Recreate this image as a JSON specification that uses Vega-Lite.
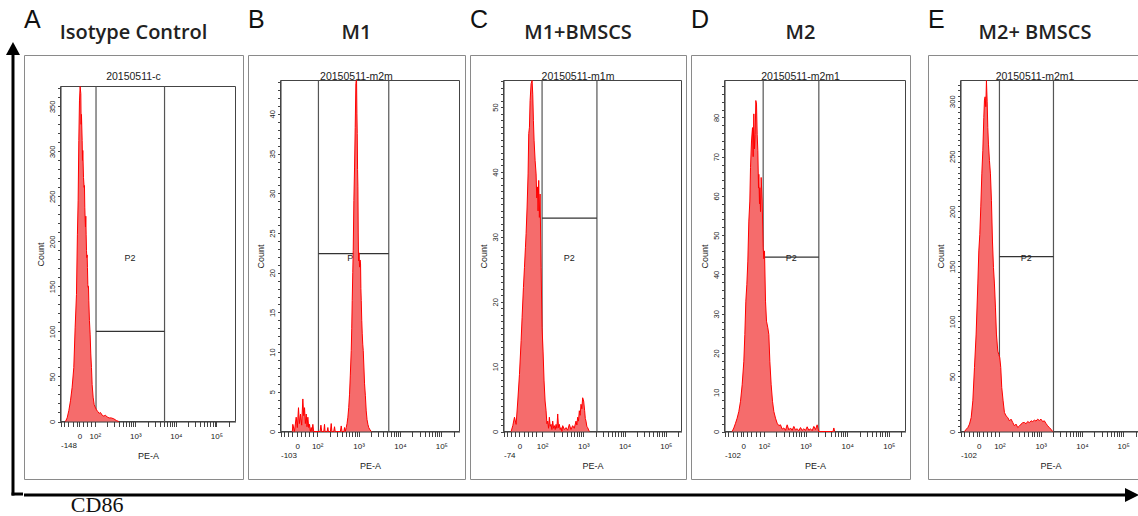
{
"$schema": "https://vega.github.io/schema/vega-lite/v6.json",
"background": "white",
"padding": 0,
"spacing": 0,
"config": {
  "font": "Liberation Sans",
  "view": {"stroke": "#8a8a8a", "strokeWidth": 1},
  "axis": {"grid": false, "domainColor": "#333333", "tickColor": "#444444", "labelColor": "#222222", "titleColor": "#222222", "titleFontWeight": "normal", "labelOverlap": false, "labelBound": false, "labelFont": "Liberation Sans", "titleFont": "Liberation Sans"}
},
"datasets": {
  "histA": [
    {"pe":1.277,"count":0},{"pe":1.318,"count":4},{"pe":1.359,"count":12},{"pe":1.4,"count":23},{"pe":1.441,"count":38},{"pe":1.482,"count":60},{"pe":1.515,"count":104},{"pe":1.548,"count":141},{"pe":1.571,"count":208},{"pe":1.589,"count":245},{"pe":1.606,"count":312},{"pe":1.622,"count":356},{"pe":1.638,"count":372},{"pe":1.655,"count":364},{"pe":1.663,"count":330},{"pe":1.671,"count":341},{"pe":1.688,"count":312},{"pe":1.696,"count":290},{"pe":1.704,"count":301},{"pe":1.721,"count":271},{"pe":1.737,"count":260},{"pe":1.745,"count":262},{"pe":1.753,"count":238},{"pe":1.762,"count":225},{"pe":1.77,"count":216},{"pe":1.778,"count":228},{"pe":1.786,"count":208},{"pe":1.795,"count":190},{"pe":1.803,"count":182},{"pe":1.811,"count":185},{"pe":1.819,"count":171},{"pe":1.828,"count":152},{"pe":1.836,"count":149},{"pe":1.844,"count":150},{"pe":1.852,"count":134},{"pe":1.868,"count":112},{"pe":1.885,"count":97},{"pe":1.901,"count":75},{"pe":1.918,"count":60},{"pe":1.934,"count":41},{"pe":1.959,"count":27},{"pe":1.984,"count":19},{"pe":2.008,"count":16},{"pe":2.041,"count":13},{"pe":2.074,"count":11},{"pe":2.107,"count":9},{"pe":2.14,"count":10},{"pe":2.181,"count":7},{"pe":2.222,"count":6},{"pe":2.263,"count":7},{"pe":2.304,"count":5},{"pe":2.353,"count":4},{"pe":2.403,"count":4},{"pe":2.468,"count":3},{"pe":2.534,"count":1},{"pe":2.592,"count":0}
  ],
  "histB": [
    {"pe":1.4,"count":0},{"pe":1.411,"count":0.9},{"pe":1.45,"count":0},{"pe":1.492,"count":1.8},{"pe":1.52,"count":0.5},{"pe":1.548,"count":3.0},{"pe":1.57,"count":1.0},{"pe":1.597,"count":2.2},{"pe":1.625,"count":0.8},{"pe":1.653,"count":4.1},{"pe":1.674,"count":2.0},{"pe":1.694,"count":3.0},{"pe":1.714,"count":1.0},{"pe":1.734,"count":2.2},{"pe":1.754,"count":0.6},{"pe":1.774,"count":1.8},{"pe":1.795,"count":0.5},{"pe":1.815,"count":0.9},{"pe":1.835,"count":0},{"pe":1.855,"count":0.5},{"pe":1.875,"count":0},{"pe":1.895,"count":0.9},{"pe":1.915,"count":0},{"pe":2.07,"count":0},{"pe":2.09,"count":0.8},{"pe":2.11,"count":0},{"pe":2.16,"count":0},{"pe":2.177,"count":0.9},{"pe":2.19,"count":0},{"pe":2.24,"count":0},{"pe":2.258,"count":0.5},{"pe":2.27,"count":0},{"pe":2.32,"count":0},{"pe":2.339,"count":1.0},{"pe":2.355,"count":0},{"pe":2.4,"count":0},{"pe":2.419,"count":0.6},{"pe":2.435,"count":0},{"pe":2.56,"count":0},{"pe":2.581,"count":0.7},{"pe":2.6,"count":0},{"pe":2.645,"count":0},{"pe":2.661,"count":0.5},{"pe":2.68,"count":0},{"pe":2.702,"count":0.5},{"pe":2.722,"count":1.0},{"pe":2.742,"count":1.8},{"pe":2.762,"count":3.0},{"pe":2.782,"count":4.7},{"pe":2.8,"count":7.0},{"pe":2.823,"count":10.2},{"pe":2.835,"count":13},{"pe":2.847,"count":16.5},{"pe":2.86,"count":20},{"pe":2.871,"count":22.8},{"pe":2.887,"count":29.1},{"pe":2.903,"count":33.3},{"pe":2.919,"count":38.3},{"pe":2.935,"count":43.8},{"pe":2.944,"count":44.2},{"pe":2.952,"count":44.2},{"pe":2.96,"count":40},{"pe":2.968,"count":37.5},{"pe":2.976,"count":33},{"pe":2.984,"count":30.8},{"pe":2.992,"count":25},{"pe":3.0,"count":21.5},{"pe":3.012,"count":22.5},{"pe":3.024,"count":20.7},{"pe":3.036,"count":21.6},{"pe":3.048,"count":21.1},{"pe":3.056,"count":18},{"pe":3.065,"count":16.5},{"pe":3.077,"count":14},{"pe":3.089,"count":12.3},{"pe":3.101,"count":11},{"pe":3.113,"count":10.2},{"pe":3.13,"count":8},{"pe":3.145,"count":6.0},{"pe":3.165,"count":4.5},{"pe":3.185,"count":2.6},{"pe":3.205,"count":1.5},{"pe":3.226,"count":0.9},{"pe":3.246,"count":0.5},{"pe":3.266,"count":0.3},{"pe":3.306,"count":0}
  ],
  "histC": [
    {"pe":1.25,"count":0},{"pe":1.29,"count":0.9},{"pe":1.331,"count":2.2},{"pe":1.371,"count":1.1},{"pe":1.411,"count":4.7},{"pe":1.452,"count":8.8},{"pe":1.492,"count":14},{"pe":1.516,"count":17.6},{"pe":1.548,"count":22.2},{"pe":1.573,"count":25.3},{"pe":1.597,"count":28.4},{"pe":1.613,"count":30.5},{"pe":1.637,"count":34.6},{"pe":1.661,"count":39.7},{"pe":1.677,"count":45.9},{"pe":1.694,"count":46.9},{"pe":1.71,"count":51},{"pe":1.734,"count":53.6},{"pe":1.758,"count":54.1},{"pe":1.774,"count":52},{"pe":1.79,"count":47.9},{"pe":1.806,"count":44.9},{"pe":1.831,"count":41.8},{"pe":1.855,"count":39.7},{"pe":1.871,"count":36},{"pe":1.887,"count":37.7},{"pe":1.903,"count":34},{"pe":1.919,"count":38.7},{"pe":1.935,"count":33},{"pe":1.952,"count":36.6},{"pe":1.976,"count":25.3},{"pe":2.0,"count":16},{"pe":2.024,"count":12.4},{"pe":2.048,"count":7.8},{"pe":2.073,"count":4.7},{"pe":2.097,"count":3.2},{"pe":2.117,"count":1.2},{"pe":2.137,"count":1.6},{"pe":2.157,"count":0.5},{"pe":2.177,"count":2.2},{"pe":2.197,"count":0.8},{"pe":2.218,"count":1.1},{"pe":2.238,"count":0.3},{"pe":2.258,"count":1.6},{"pe":2.278,"count":0.5},{"pe":2.298,"count":0.9},{"pe":2.318,"count":0.3},{"pe":2.339,"count":1.1},{"pe":2.359,"count":0.5},{"pe":2.379,"count":2.7},{"pe":2.399,"count":0.6},{"pe":2.419,"count":1.1},{"pe":2.44,"count":0.3},{"pe":2.46,"count":0.6},{"pe":2.48,"count":0},{"pe":2.5,"count":0.9},{"pe":2.54,"count":0.3},{"pe":2.581,"count":0.6},{"pe":2.62,"count":0.2},{"pe":2.661,"count":1.1},{"pe":2.7,"count":0.3},{"pe":2.742,"count":0.9},{"pe":2.78,"count":0.5},{"pe":2.823,"count":1.6},{"pe":2.843,"count":1.0},{"pe":2.863,"count":2.2},{"pe":2.883,"count":1.6},{"pe":2.903,"count":3.2},{"pe":2.924,"count":2.5},{"pe":2.944,"count":4.2},{"pe":2.964,"count":3.5},{"pe":2.984,"count":5.2},{"pe":3.008,"count":4.7},{"pe":3.032,"count":3.2},{"pe":3.048,"count":2.0},{"pe":3.065,"count":1.6},{"pe":3.085,"count":0.8},{"pe":3.105,"count":0.6},{"pe":3.145,"count":0}
  ],
  "histD": [
    {"pe":1.24,"count":0},{"pe":1.28,"count":0.9},{"pe":1.32,"count":2.1},{"pe":1.36,"count":3.4},{"pe":1.4,"count":5.1},{"pe":1.44,"count":7.7},{"pe":1.48,"count":11.9},{"pe":1.52,"count":17.9},{"pe":1.544,"count":24.7},{"pe":1.568,"count":33.2},{"pe":1.592,"count":37.4},{"pe":1.616,"count":43.4},{"pe":1.64,"count":53.6},{"pe":1.664,"count":58.7},{"pe":1.68,"count":67.2},{"pe":1.704,"count":74},{"pe":1.728,"count":77.4},{"pe":1.744,"count":70},{"pe":1.76,"count":80.9},{"pe":1.776,"count":72},{"pe":1.792,"count":75.7},{"pe":1.808,"count":84.3},{"pe":1.824,"count":83.4},{"pe":1.84,"count":75.7},{"pe":1.856,"count":71.5},{"pe":1.872,"count":62},{"pe":1.88,"count":65.5},{"pe":1.896,"count":58},{"pe":1.904,"count":62.1},{"pe":1.92,"count":56},{"pe":1.936,"count":64.7},{"pe":1.96,"count":58.7},{"pe":1.984,"count":46.8},{"pe":2.0,"count":44},{"pe":2.016,"count":46},{"pe":2.04,"count":33.2},{"pe":2.064,"count":28.1},{"pe":2.096,"count":26.4},{"pe":2.12,"count":24.7},{"pe":2.144,"count":17.9},{"pe":2.176,"count":11.9},{"pe":2.208,"count":7.7},{"pe":2.24,"count":5.1},{"pe":2.28,"count":3.4},{"pe":2.32,"count":2.1},{"pe":2.36,"count":1.5},{"pe":2.4,"count":1.7},{"pe":2.44,"count":0.6},{"pe":2.48,"count":0.9},{"pe":2.52,"count":0.3},{"pe":2.56,"count":1.7},{"pe":2.6,"count":0.4},{"pe":2.64,"count":0.9},{"pe":2.68,"count":0.3},{"pe":2.72,"count":1.3},{"pe":2.76,"count":0.4},{"pe":2.8,"count":0.7},{"pe":2.84,"count":0.2},{"pe":2.88,"count":1.0},{"pe":2.92,"count":0.3},{"pe":2.96,"count":0.7},{"pe":3.0,"count":0.3},{"pe":3.04,"count":1.2},{"pe":3.08,"count":0.3},{"pe":3.12,"count":0.7},{"pe":3.16,"count":0.2},{"pe":3.2,"count":1.3},{"pe":3.24,"count":0.5},{"pe":3.28,"count":1.7},{"pe":3.3,"count":0.8},{"pe":3.32,"count":0},{"pe":3.66,"count":0},{"pe":3.68,"count":0.9},{"pe":3.7,"count":0}
  ],
  "histE": [
    {"pe":1.153,"count":0},{"pe":1.194,"count":2},{"pe":1.234,"count":3.6},{"pe":1.274,"count":6.7},{"pe":1.315,"count":12.7},{"pe":1.355,"count":27.9},{"pe":1.395,"count":58.2},{"pe":1.435,"count":88.5},{"pe":1.476,"count":134},{"pe":1.5,"count":164},{"pe":1.524,"count":179},{"pe":1.548,"count":204},{"pe":1.573,"count":234},{"pe":1.597,"count":255},{"pe":1.621,"count":285},{"pe":1.637,"count":301},{"pe":1.653,"count":304},{"pe":1.669,"count":295},{"pe":1.685,"count":318.8},{"pe":1.702,"count":300},{"pe":1.718,"count":276},{"pe":1.734,"count":261},{"pe":1.758,"count":246},{"pe":1.782,"count":234},{"pe":1.806,"count":210},{"pe":1.831,"count":173},{"pe":1.855,"count":149},{"pe":1.879,"count":134},{"pe":1.903,"count":113},{"pe":1.927,"count":88.5},{"pe":1.96,"count":73},{"pe":1.984,"count":70},{"pe":2.008,"count":67},{"pe":2.032,"count":58.2},{"pe":2.056,"count":40},{"pe":2.089,"count":27.9},{"pe":2.121,"count":17.3},{"pe":2.161,"count":14.2},{"pe":2.202,"count":12.7},{"pe":2.242,"count":9.7},{"pe":2.282,"count":11.2},{"pe":2.323,"count":8.2},{"pe":2.363,"count":5.2},{"pe":2.403,"count":6.7},{"pe":2.444,"count":3.6},{"pe":2.484,"count":5},{"pe":2.524,"count":6.7},{"pe":2.565,"count":8},{"pe":2.605,"count":8.2},{"pe":2.645,"count":7},{"pe":2.685,"count":9.1},{"pe":2.726,"count":8},{"pe":2.766,"count":9.7},{"pe":2.806,"count":9},{"pe":2.847,"count":10.3},{"pe":2.887,"count":9.5},{"pe":2.927,"count":11.2},{"pe":2.968,"count":10},{"pe":3.008,"count":11.2},{"pe":3.048,"count":9},{"pe":3.089,"count":9.7},{"pe":3.129,"count":7.3},{"pe":3.169,"count":5.2},{"pe":3.21,"count":3.6},{"pe":3.25,"count":2},{"pe":3.29,"count":0}
  ]
},
"hconcat": [
  {
    "width": 23, "height": 516, "view": {"stroke": null},
    "data": {"values": [{}]},
    "layer": [
      {"mark": {"type": "rect", "color": "#000000"}, "encoding": {
        "x": {"datum": 0.5, "type": "quantitative", "scale": {"domain": [0, 1], "nice": false, "zero": false}, "axis": null},
        "x2": {"datum": 0.63},
        "y": {"datum": 0.0397, "type": "quantitative", "scale": {"domain": [0, 1], "nice": false, "zero": false}, "axis": null},
        "y2": {"datum": 0.895}}},
      {"mark": {"type": "rect", "color": "#000000"}, "encoding": {
        "x": {"datum": 0.5, "type": "quantitative", "axis": null},
        "x2": {"datum": 1},
        "y": {"datum": 0.0397, "type": "quantitative", "axis": null},
        "y2": {"datum": 0.0455}}},
      {"mark": {"type": "point", "shape": "M0,0L0.5,0.93L-0.5,0.93Z", "filled": true, "color": "#000000", "size": 784, "opacity": 1, "strokeWidth": 0}, "encoding": {
        "x": {"datum": 0.565, "type": "quantitative", "axis": null},
        "y": {"datum": 0.9186, "type": "quantitative", "axis": null}}}
    ]
  },
  {
    "spacing": 0,
    "vconcat": [
      {
        "spacing": 3,
        "hconcat": [
          {
            "spacing": 0,
            "vconcat": [
              {
                "width": 219, "height": 54, "view": {"stroke": null},
                "data": {"values": [{"letter": "A", "name": "Isotype Control"}]},
                "layer": [
                  {"mark": {"type": "text", "align": "left", "baseline": "alphabetic", "fontSize": 25, "font": "Liberation Sans", "color": "#111111"}, "encoding": {
                    "x": {"datum": 0, "type": "quantitative", "scale": {"domain": [0, 1], "nice": false, "zero": false}, "axis": null},
                    "y": {"datum": 0.48, "type": "quantitative", "scale": {"domain": [0, 1], "nice": false, "zero": false}, "axis": null},
                    "text": {"field": "letter"}}},
                  {"mark": {"type": "text", "align": "center", "baseline": "alphabetic", "fontSize": 20, "font": "Open Sans", "fontWeight": 600, "color": "#222222"}, "encoding": {
                    "x": {"datum": 0.5, "type": "quantitative", "axis": null},
                    "y": {"datum": 0.27, "type": "quantitative", "axis": null},
                    "text": {"field": "name"}}}
                ]
              },
              {
                "width": 219, "height": 424,
                "data": {"name": "histA"},
                "resolve": {"axis": {"x": "independent", "y": "independent"}},
                "layer": [
                  {"data": {"values": [{}]}, "mark": {"type": "rect", "filled": false, "stroke": "#444444", "strokeWidth": 1}, "encoding": {
                    "x": {"datum": 1.154, "type": "quantitative", "axis": null}, "x2": {"datum": 5.47},
                    "y": {"datum": 0, "type": "quantitative", "axis": null}, "y2": {"datum": 372}}},
                  {"data": {"values": [{"edge": 2.03}, {"edge": 3.72}]}, "mark": {"type": "rule", "color": "#555555", "strokeWidth": 1.2}, "encoding": {
                    "x": {"field": "edge", "type": "quantitative", "axis": null},
                    "y": {"datum": 0, "type": "quantitative", "axis": null}, "y2": {"datum": 372}}},
                  {"data": {"values": [{"lo": 2.03, "hi": 3.72, "level": 100}]}, "mark": {"type": "rule", "color": "#333333", "strokeWidth": 1.2}, "encoding": {
                    "x": {"field": "lo", "type": "quantitative", "axis": null}, "x2": {"field": "hi"},
                    "y": {"field": "level", "type": "quantitative", "axis": null}}},
                  {"data": {"values": [{"gate": "P2", "cx": 2.87, "cy": 182}]}, "mark": {"type": "text", "fontSize": 9, "baseline": "middle", "color": "#222222"}, "encoding": {
                    "x": {"field": "cx", "type": "quantitative", "axis": null},
                    "y": {"field": "cy", "type": "quantitative", "axis": null},
                    "text": {"field": "gate"}}},
                  {"mark": {"type": "area", "color": "#f56c6c", "opacity": 1}, "encoding": {
                    "x": {"field": "pe", "type": "quantitative", "scale": {"domain": [1.154, 5.47], "range": [36.5, 211.5], "nice": false, "zero": false},
                      "axis": {"orient": "bottom", "offset": -57.5, "values": [1.154, 1.25, 1.35, 1.45, 1.55, 1.62, 1.7, 1.8, 1.9, 2, 2.301, 2.477, 2.602, 2.699, 2.778, 2.845, 2.903, 2.954, 3, 3.301, 3.477, 3.602, 3.699, 3.778, 3.845, 3.903, 3.954, 4, 4.301, 4.477, 4.602, 4.699, 4.778, 4.845, 4.903, 4.954, 5, 5.301],
                        "labelExpr": "datum.value == 2 ? '10²' : datum.value == 3 ? '10³' : datum.value == 4 ? '10⁴' : datum.value == 5 ? '10⁵' : datum.value == 1.62 ? '0' : datum.value == 1.154 ? ['', '-148'] : ''",
                        "tickSize": 5, "title": "PE-A", "labelPadding": 6, "labelFontSize": 8, "labelLineHeight": 9, "titleFontSize": 9, "titlePadding": 2}},
                    "y": {"field": "count", "type": "quantitative", "scale": {"domain": [0, 372], "range": [366.5, 31.5], "nice": false, "zero": false},
                      "axis": {"orient": "left", "offset": -36.5, "values": [0,10,20,30,40,50,60,70,80,90,100,110,120,130,140,150,160,170,180,190,200,210,220,230,240,250,260,270,280,290,300,310,320,330,340,350,360,370],
                        "labelExpr": "datum.value % 50 == 0 ? datum.label : ''",
                        "tickSize": 3, "title": "Count", "labelAngle": 270, "labelPadding": 1, "labelFontSize": 7.5, "titleFontSize": 9, "titlePadding": 3}}}},
                  {"mark": {"type": "line", "color": "#ff0000", "strokeWidth": 1}, "encoding": {
                    "x": {"field": "pe", "type": "quantitative", "axis": null},
                    "y": {"field": "count", "type": "quantitative", "axis": null}}},
                  {"data": {"values": [{"sample": "20150511-c"}]}, "mark": {"type": "text", "fontSize": 10.5, "baseline": "alphabetic", "dy": -7, "color": "#222222"}, "encoding": {
                    "x": {"datum": 2.954, "type": "quantitative", "axis": null},
                    "y": {"datum": 372, "type": "quantitative", "axis": null},
                    "text": {"field": "sample"}}}
                ]
              }
            ]
          },
          {
            "spacing": 0,
            "vconcat": [
              {
                "width": 217, "height": 54, "view": {"stroke": null},
                "data": {"values": [{"letter": "B", "name": "M1"}]},
                "layer": [
                  {"mark": {"type": "text", "align": "left", "baseline": "alphabetic", "fontSize": 25, "font": "Liberation Sans", "color": "#111111"}, "encoding": {
                    "x": {"datum": 0, "type": "quantitative", "scale": {"domain": [0, 1], "nice": false, "zero": false}, "axis": null},
                    "y": {"datum": 0.48, "type": "quantitative", "scale": {"domain": [0, 1], "nice": false, "zero": false}, "axis": null},
                    "text": {"field": "letter"}}},
                  {"mark": {"type": "text", "align": "center", "baseline": "alphabetic", "fontSize": 20, "font": "Open Sans", "fontWeight": 600, "color": "#222222"}, "encoding": {
                    "x": {"datum": 0.5, "type": "quantitative", "axis": null},
                    "y": {"datum": 0.27, "type": "quantitative", "axis": null},
                    "text": {"field": "name"}}}
                ]
              },
              {
                "width": 217, "height": 424,
                "data": {"name": "histB"},
                "resolve": {"axis": {"x": "independent", "y": "independent"}},
                "layer": [
                  {"data": {"values": [{}]}, "mark": {"type": "rect", "filled": false, "stroke": "#444444", "strokeWidth": 1}, "encoding": {
                    "x": {"datum": 1.113, "type": "quantitative", "axis": null}, "x2": {"datum": 5.44},
                    "y": {"datum": 0, "type": "quantitative", "axis": null}, "y2": {"datum": 44.2}}},
                  {"data": {"values": [{"edge": 2.03}, {"edge": 3.73}]}, "mark": {"type": "rule", "color": "#555555", "strokeWidth": 1.2}, "encoding": {
                    "x": {"field": "edge", "type": "quantitative", "axis": null},
                    "y": {"datum": 0, "type": "quantitative", "axis": null}, "y2": {"datum": 44.2}}},
                  {"data": {"values": [{"lo": 2.03, "hi": 3.73, "level": 22.4}]}, "mark": {"type": "rule", "color": "#333333", "strokeWidth": 1.2}, "encoding": {
                    "x": {"field": "lo", "type": "quantitative", "axis": null}, "x2": {"field": "hi"},
                    "y": {"field": "level", "type": "quantitative", "axis": null}}},
                  {"data": {"values": [{"gate": "P2", "cx": 2.86, "cy": 21.9}]}, "mark": {"type": "text", "fontSize": 9, "baseline": "middle", "color": "#222222"}, "encoding": {
                    "x": {"field": "cx", "type": "quantitative", "axis": null},
                    "y": {"field": "cy", "type": "quantitative", "axis": null},
                    "text": {"field": "gate"}}},
                  {"mark": {"type": "area", "color": "#f56c6c", "opacity": 1}, "encoding": {
                    "x": {"field": "pe", "type": "quantitative", "scale": {"domain": [1.113, 5.44], "range": [32.5, 211.5], "nice": false, "zero": false},
                      "axis": {"orient": "bottom", "offset": -47.5, "values": [1.113, 1.2, 1.3, 1.4, 1.516, 1.6, 1.7, 1.8, 1.9, 2, 2.301, 2.477, 2.602, 2.699, 2.778, 2.845, 2.903, 2.954, 3, 3.301, 3.477, 3.602, 3.699, 3.778, 3.845, 3.903, 3.954, 4, 4.301, 4.477, 4.602, 4.699, 4.778, 4.845, 4.903, 4.954, 5, 5.301],
                        "labelExpr": "datum.value == 2 ? '10²' : datum.value == 3 ? '10³' : datum.value == 4 ? '10⁴' : datum.value == 5 ? '10⁵' : datum.value == 1.516 ? '0' : datum.value == 1.113 ? ['', '-103'] : ''",
                        "tickSize": 5, "title": "PE-A", "labelPadding": 6, "labelFontSize": 8, "labelLineHeight": 9, "titleFontSize": 9, "titlePadding": 2}},
                    "y": {"field": "count", "type": "quantitative", "scale": {"domain": [0, 44.2], "range": [376.5, 25.5], "nice": false, "zero": false},
                      "axis": {"orient": "left", "offset": -32.5, "values": [0,1,2,3,4,5,6,7,8,9,10,11,12,13,14,15,16,17,18,19,20,21,22,23,24,25,26,27,28,29,30,31,32,33,34,35,36,37,38,39,40,41,42,43,44],
                        "labelExpr": "datum.value % 5 == 0 ? datum.label : ''",
                        "tickSize": 3, "title": "Count", "labelAngle": 270, "labelPadding": 1, "labelFontSize": 7.5, "titleFontSize": 9, "titlePadding": 3}}}},
                  {"mark": {"type": "line", "color": "#ff0000", "strokeWidth": 1}, "encoding": {
                    "x": {"field": "pe", "type": "quantitative", "axis": null},
                    "y": {"field": "count", "type": "quantitative", "axis": null}}},
                  {"data": {"values": [{"sample": "20150511-m2m"}]}, "mark": {"type": "text", "fontSize": 10.5, "baseline": "alphabetic", "dy": -1, "color": "#222222"}, "encoding": {
                    "x": {"datum": 2.95, "type": "quantitative", "axis": null},
                    "y": {"datum": 44.2, "type": "quantitative", "axis": null},
                    "text": {"field": "sample"}}}
                ]
              }
            ]
          },
          {
            "spacing": 0,
            "vconcat": [
              {
                "width": 216, "height": 54, "view": {"stroke": null},
                "data": {"values": [{"letter": "C", "name": "M1+BMSCS"}]},
                "layer": [
                  {"mark": {"type": "text", "align": "left", "baseline": "alphabetic", "fontSize": 25, "font": "Liberation Sans", "color": "#111111"}, "encoding": {
                    "x": {"datum": 0, "type": "quantitative", "scale": {"domain": [0, 1], "nice": false, "zero": false}, "axis": null},
                    "y": {"datum": 0.48, "type": "quantitative", "scale": {"domain": [0, 1], "nice": false, "zero": false}, "axis": null},
                    "text": {"field": "letter"}}},
                  {"mark": {"type": "text", "align": "center", "baseline": "alphabetic", "fontSize": 20, "font": "Open Sans", "fontWeight": 600, "color": "#222222"}, "encoding": {
                    "x": {"datum": 0.5, "type": "quantitative", "axis": null},
                    "y": {"datum": 0.27, "type": "quantitative", "axis": null},
                    "text": {"field": "name"}}}
                ]
              },
              {
                "width": 216, "height": 424,
                "data": {"name": "histC"},
                "resolve": {"axis": {"x": "independent", "y": "independent"}},
                "layer": [
                  {"data": {"values": [{}]}, "mark": {"type": "rect", "filled": false, "stroke": "#444444", "strokeWidth": 1}, "encoding": {
                    "x": {"datum": 1.065, "type": "quantitative", "axis": null}, "x2": {"datum": 5.38},
                    "y": {"datum": 0, "type": "quantitative", "axis": null}, "y2": {"datum": 54.1}}},
                  {"data": {"values": [{"edge": 2.0}, {"edge": 3.33}]}, "mark": {"type": "rule", "color": "#555555", "strokeWidth": 1.2}, "encoding": {
                    "x": {"field": "edge", "type": "quantitative", "axis": null},
                    "y": {"datum": 0, "type": "quantitative", "axis": null}, "y2": {"datum": 54.1}}},
                  {"data": {"values": [{"lo": 2.0, "hi": 3.33, "level": 32.9}]}, "mark": {"type": "rule", "color": "#333333", "strokeWidth": 1.2}, "encoding": {
                    "x": {"field": "lo", "type": "quantitative", "axis": null}, "x2": {"field": "hi"},
                    "y": {"field": "level", "type": "quantitative", "axis": null}}},
                  {"data": {"values": [{"gate": "P2", "cx": 2.66, "cy": 26.8}]}, "mark": {"type": "text", "fontSize": 9, "baseline": "middle", "color": "#222222"}, "encoding": {
                    "x": {"field": "cx", "type": "quantitative", "axis": null},
                    "y": {"field": "cy", "type": "quantitative", "axis": null},
                    "text": {"field": "gate"}}},
                  {"mark": {"type": "area", "color": "#f56c6c", "opacity": 1}, "encoding": {
                    "x": {"field": "pe", "type": "quantitative", "scale": {"domain": [1.065, 5.38], "range": [33.5, 211.5], "nice": false, "zero": false},
                      "axis": {"orient": "bottom", "offset": -47.5, "values": [1.065, 1.15, 1.25, 1.35, 1.452, 1.55, 1.65, 1.75, 1.85, 2, 2.301, 2.477, 2.602, 2.699, 2.778, 2.845, 2.903, 2.954, 3, 3.301, 3.477, 3.602, 3.699, 3.778, 3.845, 3.903, 3.954, 4, 4.301, 4.477, 4.602, 4.699, 4.778, 4.845, 4.903, 4.954, 5, 5.301],
                        "labelExpr": "datum.value == 2 ? '10²' : datum.value == 3 ? '10³' : datum.value == 4 ? '10⁴' : datum.value == 5 ? '10⁵' : datum.value == 1.452 ? '0' : datum.value == 1.065 ? ['', '-74'] : ''",
                        "tickSize": 5, "title": "PE-A", "labelPadding": 6, "labelFontSize": 8, "labelLineHeight": 9, "titleFontSize": 9, "titlePadding": 2}},
                    "y": {"field": "count", "type": "quantitative", "scale": {"domain": [0, 54.1], "range": [376.5, 25.5], "nice": false, "zero": false},
                      "axis": {"orient": "left", "offset": -33.5, "values": [0,1,2,3,4,5,6,7,8,9,10,11,12,13,14,15,16,17,18,19,20,21,22,23,24,25,26,27,28,29,30,31,32,33,34,35,36,37,38,39,40,41,42,43,44,45,46,47,48,49,50,51,52,53,54],
                        "labelExpr": "datum.value % 10 == 0 ? datum.label : ''",
                        "tickSize": 3, "title": "Count", "labelAngle": 270, "labelPadding": 1, "labelFontSize": 7.5, "titleFontSize": 9, "titlePadding": 3}}}},
                  {"mark": {"type": "line", "color": "#ff0000", "strokeWidth": 1}, "encoding": {
                    "x": {"field": "pe", "type": "quantitative", "axis": null},
                    "y": {"field": "count", "type": "quantitative", "axis": null}}},
                  {"data": {"values": [{"sample": "20150511-m1m"}]}, "mark": {"type": "text", "fontSize": 10.5, "baseline": "alphabetic", "dy": -1, "color": "#222222"}, "encoding": {
                    "x": {"datum": 2.871, "type": "quantitative", "axis": null},
                    "y": {"datum": 54.1, "type": "quantitative", "axis": null},
                    "text": {"field": "sample"}}}
                ]
              }
            ]
          },
          {
            "spacing": 0,
            "vconcat": [
              {
                "width": 219, "height": 54, "view": {"stroke": null},
                "data": {"values": [{"letter": "D", "name": "M2"}]},
                "layer": [
                  {"mark": {"type": "text", "align": "left", "baseline": "alphabetic", "fontSize": 25, "font": "Liberation Sans", "color": "#111111"}, "encoding": {
                    "x": {"datum": 0, "type": "quantitative", "scale": {"domain": [0, 1], "nice": false, "zero": false}, "axis": null},
                    "y": {"datum": 0.48, "type": "quantitative", "scale": {"domain": [0, 1], "nice": false, "zero": false}, "axis": null},
                    "text": {"field": "letter"}}},
                  {"mark": {"type": "text", "align": "center", "baseline": "alphabetic", "fontSize": 20, "font": "Open Sans", "fontWeight": 600, "color": "#222222"}, "encoding": {
                    "x": {"datum": 0.5, "type": "quantitative", "axis": null},
                    "y": {"datum": 0.27, "type": "quantitative", "axis": null},
                    "text": {"field": "name"}}}
                ]
              },
              {
                "width": 219, "height": 424,
                "data": {"name": "histD"},
                "resolve": {"axis": {"x": "independent", "y": "independent"}},
                "layer": [
                  {"data": {"values": [{}]}, "mark": {"type": "rect", "filled": false, "stroke": "#444444", "strokeWidth": 1}, "encoding": {
                    "x": {"datum": 1.056, "type": "quantitative", "axis": null}, "x2": {"datum": 5.4},
                    "y": {"datum": 0, "type": "quantitative", "axis": null}, "y2": {"datum": 89.4}}},
                  {"data": {"values": [{"edge": 1.984}, {"edge": 3.32}]}, "mark": {"type": "rule", "color": "#555555", "strokeWidth": 1.2}, "encoding": {
                    "x": {"field": "edge", "type": "quantitative", "axis": null},
                    "y": {"datum": 0, "type": "quantitative", "axis": null}, "y2": {"datum": 89.4}}},
                  {"data": {"values": [{"lo": 1.984, "hi": 3.32, "level": 44.4}]}, "mark": {"type": "rule", "color": "#333333", "strokeWidth": 1.2}, "encoding": {
                    "x": {"field": "lo", "type": "quantitative", "axis": null}, "x2": {"field": "hi"},
                    "y": {"field": "level", "type": "quantitative", "axis": null}}},
                  {"data": {"values": [{"gate": "P2", "cx": 2.66, "cy": 44.3}]}, "mark": {"type": "text", "fontSize": 9, "baseline": "middle", "color": "#222222"}, "encoding": {
                    "x": {"field": "cx", "type": "quantitative", "axis": null},
                    "y": {"field": "cy", "type": "quantitative", "axis": null},
                    "text": {"field": "gate"}}},
                  {"mark": {"type": "area", "color": "#f56c6c", "opacity": 1}, "encoding": {
                    "x": {"field": "pe", "type": "quantitative", "scale": {"domain": [1.056, 5.4], "range": [33.5, 214.5], "nice": false, "zero": false},
                      "axis": {"orient": "bottom", "offset": -47.5, "values": [1.056, 1.15, 1.25, 1.35, 1.45, 1.504, 1.6, 1.7, 1.8, 1.9, 2, 2.301, 2.477, 2.602, 2.699, 2.778, 2.845, 2.903, 2.954, 3, 3.301, 3.477, 3.602, 3.699, 3.778, 3.845, 3.903, 3.954, 4, 4.301, 4.477, 4.602, 4.699, 4.778, 4.845, 4.903, 4.954, 5, 5.301],
                        "labelExpr": "datum.value == 2 ? '10²' : datum.value == 3 ? '10³' : datum.value == 4 ? '10⁴' : datum.value == 5 ? '10⁵' : datum.value == 1.504 ? '0' : datum.value == 1.056 ? ['', '-102'] : ''",
                        "tickSize": 5, "title": "PE-A", "labelPadding": 6, "labelFontSize": 8, "labelLineHeight": 9, "titleFontSize": 9, "titlePadding": 2}},
                    "y": {"field": "count", "type": "quantitative", "scale": {"domain": [0, 89.4], "range": [376.5, 25.5], "nice": false, "zero": false},
                      "axis": {"orient": "left", "offset": -33.5, "values": [0,2,4,6,8,10,12,14,16,18,20,22,24,26,28,30,32,34,36,38,40,42,44,46,48,50,52,54,56,58,60,62,64,66,68,70,72,74,76,78,80,82,84,86,88],
                        "labelExpr": "datum.value % 10 == 0 ? datum.label : ''",
                        "tickSize": 3, "title": "Count", "labelAngle": 270, "labelPadding": 1, "labelFontSize": 7.5, "titleFontSize": 9, "titlePadding": 3}}}},
                  {"mark": {"type": "line", "color": "#ff0000", "strokeWidth": 1}, "encoding": {
                    "x": {"field": "pe", "type": "quantitative", "axis": null},
                    "y": {"field": "count", "type": "quantitative", "axis": null}}},
                  {"data": {"values": [{"sample": "20150511-m2m1"}]}, "mark": {"type": "text", "fontSize": 10.5, "baseline": "alphabetic", "dy": -1, "color": "#222222"}, "encoding": {
                    "x": {"datum": 2.88, "type": "quantitative", "axis": null},
                    "y": {"datum": 89.4, "type": "quantitative", "axis": null},
                    "text": {"field": "sample"}}}
                ]
              }
            ]
          },
          {
            "width": 10, "height": 100, "view": {"stroke": null},
            "data": {"values": [{}]},
            "mark": {"type": "point", "opacity": 0},
            "encoding": {}
          },
          {
            "spacing": 0,
            "vconcat": [
              {
                "width": 214, "height": 54, "view": {"stroke": null},
                "data": {"values": [{"letter": "E", "name": "M2+ BMSCS"}]},
                "layer": [
                  {"mark": {"type": "text", "align": "left", "baseline": "alphabetic", "fontSize": 25, "font": "Liberation Sans", "color": "#111111"}, "encoding": {
                    "x": {"datum": 0, "type": "quantitative", "scale": {"domain": [0, 1], "nice": false, "zero": false}, "axis": null},
                    "y": {"datum": 0.48, "type": "quantitative", "scale": {"domain": [0, 1], "nice": false, "zero": false}, "axis": null},
                    "text": {"field": "letter"}}},
                  {"mark": {"type": "text", "align": "center", "baseline": "alphabetic", "fontSize": 20, "font": "Open Sans", "fontWeight": 600, "color": "#222222"}, "encoding": {
                    "x": {"datum": 0.5, "type": "quantitative", "axis": null},
                    "y": {"datum": 0.27, "type": "quantitative", "axis": null},
                    "text": {"field": "name"}}}
                ]
              },
              {
                "width": 214, "height": 424,
                "data": {"name": "histE"},
                "resolve": {"axis": {"x": "independent", "y": "independent"}},
                "layer": [
                  {"data": {"values": [{}]}, "mark": {"type": "rect", "filled": false, "stroke": "#444444", "strokeWidth": 1}, "encoding": {
                    "x": {"datum": 1.056, "type": "quantitative", "axis": null}, "x2": {"datum": 5.42},
                    "y": {"datum": 0, "type": "quantitative", "axis": null}, "y2": {"datum": 318.8}}},
                  {"data": {"values": [{"edge": 2.0}, {"edge": 3.31}]}, "mark": {"type": "rule", "color": "#555555", "strokeWidth": 1.2}, "encoding": {
                    "x": {"field": "edge", "type": "quantitative", "axis": null},
                    "y": {"datum": 0, "type": "quantitative", "axis": null}, "y2": {"datum": 318.8}}},
                  {"data": {"values": [{"lo": 2.0, "hi": 3.31, "level": 158.8}]}, "mark": {"type": "rule", "color": "#333333", "strokeWidth": 1.2}, "encoding": {
                    "x": {"field": "lo", "type": "quantitative", "axis": null}, "x2": {"field": "hi"},
                    "y": {"field": "level", "type": "quantitative", "axis": null}}},
                  {"data": {"values": [{"gate": "P2", "cx": 2.65, "cy": 158}]}, "mark": {"type": "text", "fontSize": 9, "baseline": "middle", "color": "#222222"}, "encoding": {
                    "x": {"field": "cx", "type": "quantitative", "axis": null},
                    "y": {"field": "cy", "type": "quantitative", "axis": null},
                    "text": {"field": "gate"}}},
                  {"mark": {"type": "area", "color": "#f56c6c", "opacity": 1}, "encoding": {
                    "x": {"field": "pe", "type": "quantitative", "scale": {"domain": [1.056, 5.42], "range": [32.5, 212.5], "nice": false, "zero": false},
                      "axis": {"orient": "bottom", "offset": -47.5, "values": [1.056, 1.15, 1.25, 1.35, 1.45, 1.5, 1.6, 1.7, 1.8, 1.9, 2, 2.301, 2.477, 2.602, 2.699, 2.778, 2.845, 2.903, 2.954, 3, 3.301, 3.477, 3.602, 3.699, 3.778, 3.845, 3.903, 3.954, 4, 4.301, 4.477, 4.602, 4.699, 4.778, 4.845, 4.903, 4.954, 5, 5.301],
                        "labelExpr": "datum.value == 2 ? '10²' : datum.value == 3 ? '10³' : datum.value == 4 ? '10⁴' : datum.value == 5 ? '10⁵' : datum.value == 1.5 ? '0' : datum.value == 1.056 ? ['', '-102'] : ''",
                        "tickSize": 5, "title": "PE-A", "labelPadding": 6, "labelFontSize": 8, "labelLineHeight": 9, "titleFontSize": 9, "titlePadding": 2}},
                    "y": {"field": "count", "type": "quantitative", "scale": {"domain": [0, 318.8], "range": [376.5, 25.5], "nice": false, "zero": false},
                      "axis": {"orient": "left", "offset": -32.5, "values": [0,5,10,15,20,25,30,35,40,45,50,55,60,65,70,75,80,85,90,95,100,105,110,115,120,125,130,135,140,145,150,155,160,165,170,175,180,185,190,195,200,205,210,215,220,225,230,235,240,245,250,255,260,265,270,275,280,285,290,295,300,305,310,315],
                        "labelExpr": "datum.value % 50 == 0 ? datum.label : ''",
                        "tickSize": 3, "title": "Count", "labelAngle": 270, "labelPadding": 1, "labelFontSize": 7.5, "titleFontSize": 9, "titlePadding": 3}}}},
                  {"mark": {"type": "line", "color": "#ff0000", "strokeWidth": 1}, "encoding": {
                    "x": {"field": "pe", "type": "quantitative", "axis": null},
                    "y": {"field": "count", "type": "quantitative", "axis": null}}},
                  {"data": {"values": [{"sample": "20150511-m2m1"}]}, "mark": {"type": "text", "fontSize": 10.5, "baseline": "alphabetic", "dy": -1, "color": "#222222"}, "encoding": {
                    "x": {"datum": 2.862, "type": "quantitative", "axis": null},
                    "y": {"datum": 318.8, "type": "quantitative", "axis": null},
                    "text": {"field": "sample"}}}
                ]
              }
            ]
          }
        ]
      },
      {
        "width": 1115, "height": 37, "view": {"stroke": null},
        "data": {"values": [{"label": "CD86"}]},
        "layer": [
          {"mark": {"type": "rect", "color": "#000000"}, "encoding": {
            "x": {"datum": 0, "type": "quantitative", "scale": {"domain": [0, 1], "nice": false, "zero": false}, "axis": null},
            "x2": {"datum": 0.988},
            "y": {"datum": 0.554, "type": "quantitative", "scale": {"domain": [0, 1], "nice": false, "zero": false}, "axis": null},
            "y2": {"datum": 0.635}}},
          {"mark": {"type": "point", "shape": "M0,0L-1,-0.5L-1,0.5Z", "filled": true, "color": "#000000", "size": 784, "opacity": 1, "strokeWidth": 0}, "encoding": {
            "x": {"datum": 1, "type": "quantitative", "axis": null},
            "y": {"datum": 0.595, "type": "quantitative", "axis": null}}},
          {"mark": {"type": "text", "align": "left", "baseline": "bottom", "fontSize": 22, "font": "Liberation Serif", "color": "#111111"}, "encoding": {
            "x": {"datum": 0.042, "type": "quantitative", "axis": null},
            "y": {"datum": 0, "type": "quantitative", "axis": null},
            "text": {"field": "label"}}}
        ]
      }
    ]
  }
]
}
